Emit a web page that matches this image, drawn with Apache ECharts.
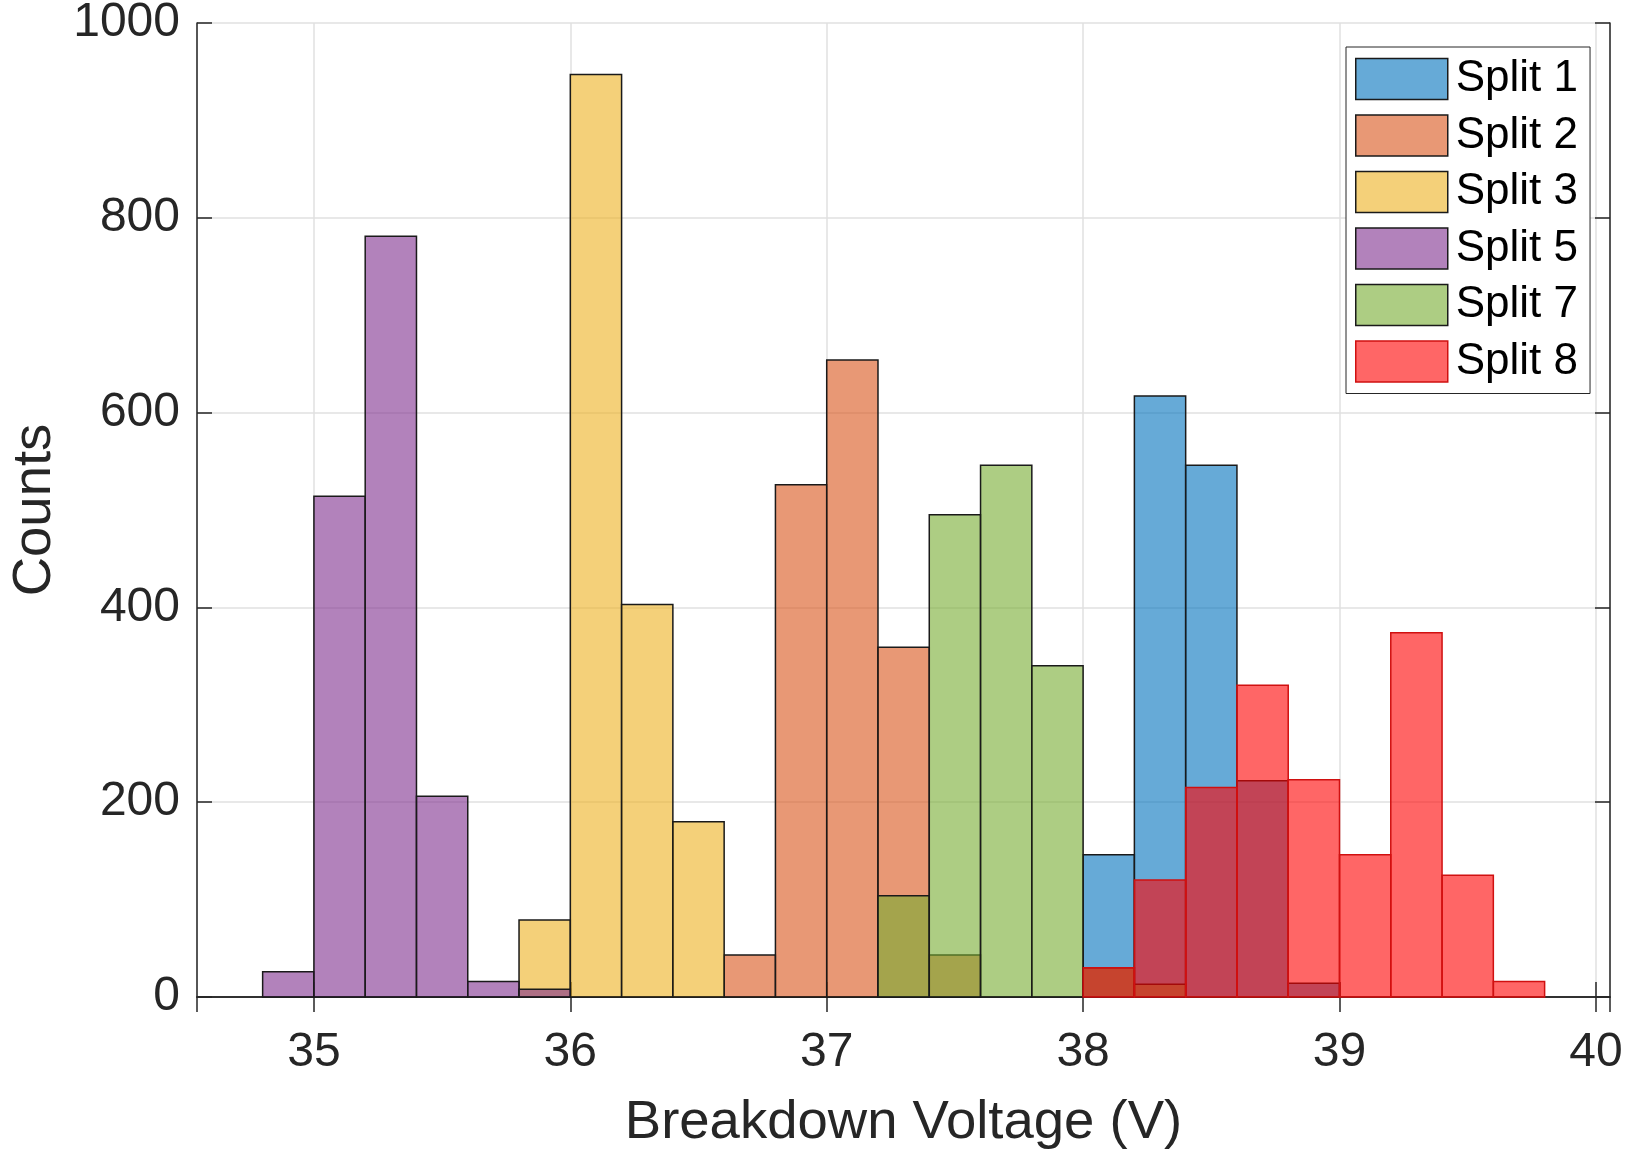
<!DOCTYPE html>
<html>
<head>
<meta charset="utf-8">
<script src="https://cdn.jsdelivr.net/npm/echarts@6/dist/echarts.min.js"></script>
<style>
  html, body { margin: 0; padding: 0; background: #fff; }
  #main { width: 1628px; height: 1150px; }
</style>
</head>
<body>
<div id="main"></div>
<script>
var myChart = echarts.init(document.getElementById('main'))

// histogram bin edges (V), bin width 0.2
var binEdges = [34.8, 35.0, 35.2, 35.4, 35.6, 35.8, 36.0, 36.2, 36.4, 36.6, 36.8, 37.0, 37.2,
  37.4, 37.6, 37.8, 38.0, 38.2, 38.4, 38.6, 38.8, 39.0, 39.2, 39.4, 39.6, 39.8]

var seriesNames = ['Split 1', 'Split 2', 'Split 3', 'Split 5', 'Split 7', 'Split 8']

// counts per bin (one entry per bin above)
var split1 = [0, 0, 0, 0, 0, 0, 0, 0, 0, 0, 0, 0, 0, 0, 0, 0, 146, 617, 546, 222, 14, 0, 0, 0, 0]
var split2 = [0, 0, 0, 0, 0, 0, 0, 0, 0, 43, 526, 654, 359, 43, 0, 0, 0, 0, 0, 0, 0, 0, 0, 0, 0]
var split3 = [0, 0, 0, 0, 0, 79, 947, 403, 180, 0, 0, 0, 0, 0, 0, 0, 0, 0, 0, 0, 0, 0, 0, 0, 0]
var split5 = [26, 514, 781, 206, 16, 8, 0, 0, 0, 0, 0, 0, 0, 0, 0, 0, 0, 0, 0, 0, 0, 0, 0, 0, 0]
var split7 = [0, 0, 0, 0, 0, 0, 0, 0, 0, 0, 0, 0, 104, 495, 546, 340, 30, 13, 0, 0, 0, 0, 0, 0, 0]
var split8 = [0, 0, 0, 0, 0, 0, 0, 0, 0, 0, 0, 0, 0, 0, 0, 0, 30, 120, 215, 320, 223, 146, 374, 125, 16]

var yTicks = [0, 200, 400, 600, 800, 1000]

var allCounts = [split1, split2, split3, split5, split7, split8]
var faceColors = [
  'rgba(0,114,189,0.6)',
  'rgba(217,83,25,0.6)',
  'rgba(237,177,32,0.6)',
  'rgba(126,47,142,0.6)',
  'rgba(119,172,48,0.6)',
  'rgba(255,0,0,0.6)'
]
var edgeColors = ['#1a1a1a', '#1a1a1a', '#1a1a1a', '#1a1a1a', '#1a1a1a', '#d01010']

var FONT = '"Liberation Sans", Arial, Helvetica, sans-serif'
var axisColor = '#262626'

function toBins(counts) {
  var res = []
  for (var i = 0; i < counts.length; i++) {
    if (counts[i] > 0) res.push([binEdges[i], binEdges[i + 1], counts[i]])
  }
  return res
}

function makeRender(k) {
  return function(params, api) {
    var p0 = api.coord([api.value(0), api.value(2)])
    var p1 = api.coord([api.value(1), 0])
    return {
      type: 'rect',
      shape: { x: p0[0], y: p0[1], width: p1[0] - p0[0], height: p1[1] - p0[1] },
      style: { fill: faceColors[k], stroke: edgeColors[k], lineWidth: 1.5 }
    }
  }
}

var series = []
var legendData = []
for (var k = 0; k < seriesNames.length; k++) {
  series.push({
    name: seriesNames[k],
    type: 'custom',
    renderItem: makeRender(k),
    encode: { x: [0, 1], y: 2 },
    itemStyle: { color: faceColors[k], borderColor: edgeColors[k], borderWidth: 1.5 },
    data: toBins(allCounts[k]),
    animation: false
  })
  legendData.push({
    name: seriesNames[k],
    icon: 'rect',
    itemStyle: { color: faceColors[k], borderColor: edgeColors[k], borderWidth: 1.5, opacity: 1 }
  })
}

var xMin = 34.544, xMax = 40.055
var yMin = yTicks[0], yMax = yTicks[yTicks.length - 1]

var option = {
  backgroundColor: '#fff',
  animation: false,
  textStyle: { fontFamily: FONT },
  grid: { left: 197, right: 18, top: 23, bottom: 153, containLabel: false, outerBoundsMode: 'none' },
  legend: {
    orient: 'vertical',
    left: 1346,
    top: 47,
    padding: [10, 12, 10, 9],
    itemWidth: 92,
    itemHeight: 41,
    itemGap: 12.5,
    backgroundColor: '#fff',
    borderColor: axisColor,
    borderWidth: 1,
    selectedMode: false,
    textStyle: { fontSize: 44, color: '#000', fontFamily: FONT, padding: [3, 0, 0, 3] },
    data: legendData
  },
  xAxis: [
    {
      type: 'value',
      min: xMin,
      max: xMax,
      name: 'Breakdown Voltage (V)',
      nameLocation: 'middle',
      nameGap: 98,
      nameTextStyle: { fontSize: 54.5, color: axisColor, fontFamily: FONT },
      axisLine: { show: true, lineStyle: { color: axisColor, width: 1.5 } },
      axisTick: { show: true, inside: true, length: 15, lineStyle: { color: axisColor, width: 1.5 } },
      axisLabel: { fontSize: 48, color: axisColor, margin: 32, fontFamily: FONT, showMinLabel: false, showMaxLabel: false },
      splitLine: { show: true, lineStyle: { color: '#e0e0e0', width: 1.5 } }
    },
    {
      type: 'value',
      position: 'top',
      min: xMin,
      max: xMax,
      axisLine: { show: true, lineStyle: { color: axisColor, width: 1.5 } },
      axisTick: { show: true, inside: true, length: 15, lineStyle: { color: axisColor, width: 1.5 } },
      axisLabel: { show: false },
      splitLine: { show: false }
    }
  ],
  yAxis: [
    {
      type: 'value',
      min: yMin,
      max: yMax,
      interval: 200,
      name: 'Counts',
      nameLocation: 'middle',
      nameGap: 135,
      nameTextStyle: { fontSize: 54.5, color: axisColor, fontFamily: FONT },
      axisLine: { show: true, lineStyle: { color: axisColor, width: 1.5 } },
      axisTick: { show: true, inside: true, length: 15, lineStyle: { color: axisColor, width: 1.5 } },
      axisLabel: { fontSize: 48, color: axisColor, margin: 17, fontFamily: FONT, formatter: function(v) { return String(v) } },
      splitLine: { show: true, lineStyle: { color: '#e0e0e0', width: 1.5 } }
    },
    {
      type: 'value',
      position: 'right',
      min: yMin,
      max: yMax,
      interval: 200,
      axisLine: { show: true, lineStyle: { color: axisColor, width: 1.5 } },
      axisTick: { show: true, inside: true, length: 15, lineStyle: { color: axisColor, width: 1.5 } },
      axisLabel: { show: false },
      splitLine: { show: false }
    }
  ],
  series: series
}

myChart.setOption(option)
</script>
</body>
</html>
